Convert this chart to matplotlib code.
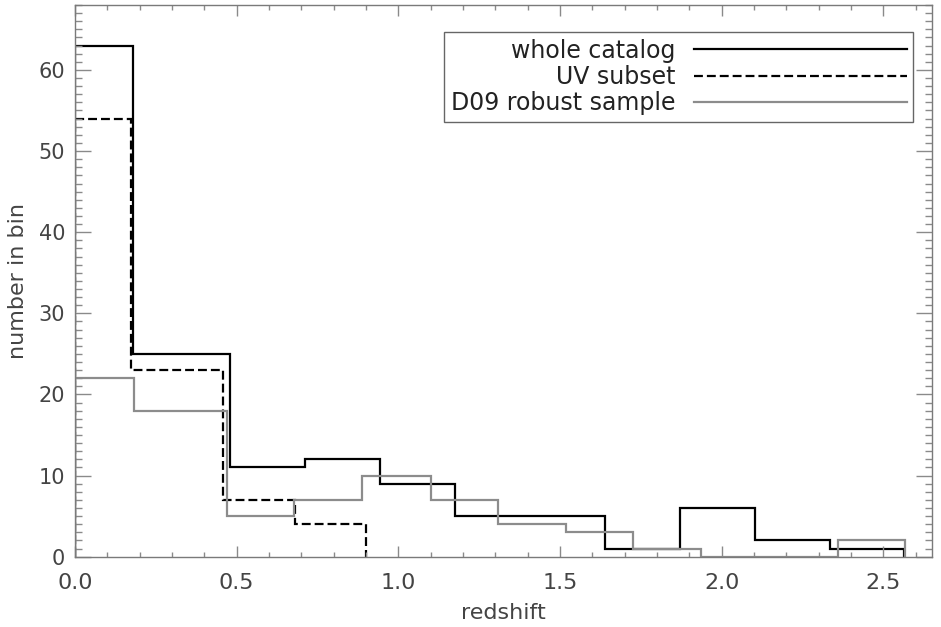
import matplotlib
matplotlib.use("Agg")
import matplotlib.pyplot as plt
from matplotlib.ticker import MultipleLocator

# Data
whole_edges = [0.0, 0.180, 0.479, 0.711, 0.943, 1.175, 1.407, 1.639, 1.871, 2.103, 2.335, 2.564]
whole_counts = [63, 25, 11, 12, 9, 5, 5, 1, 6, 2, 1]

uv_edges = [0.0, 0.173, 0.457, 0.680, 0.899]
uv_counts = [54, 23, 7, 4]

d09_edges = [0.0, 0.182, 0.469, 0.678, 0.889, 1.100, 1.307, 1.518, 1.727, 1.937, 2.147, 2.358, 2.567]
d09_counts = [22, 18, 5, 7, 10, 7, 4, 3, 1, 0, 0, 2]

labels = ["whole catalog", "UV subset", "D09 robust sample"]
xticks = [0.0, 0.5, 1.0, 1.5, 2.0, 2.5]
yticks = [0, 10, 20, 30, 40, 50, 60]

fig = plt.figure(figsize=(9.41, 6.27), dpi=100)
ax = fig.add_axes([0.0797, 0.1121, 0.9107, 0.8799])

ax.stairs(whole_counts, whole_edges, color="black", lw=1.6, label=labels[0], baseline=0)
ax.stairs(uv_counts, uv_edges, color="black", lw=1.6, ls=(0, (4, 1.8)), label=labels[1], baseline=0)
ax.stairs(d09_counts, d09_edges, color="#8c8c8c", lw=1.6, label=labels[2], baseline=0)

ax.set_xlim(0, 2.65)
ax.set_ylim(0, 68)
ax.set_xticks(xticks)
ax.set_xticklabels([f"{v:.1f}" for v in xticks])
ax.set_yticks(yticks)
ax.xaxis.set_minor_locator(MultipleLocator(0.1))
ax.yaxis.set_minor_locator(MultipleLocator(1))

tc = "#8a8a8a"
lc = "#444444"
ax.tick_params(axis="x", which="major", direction="in", length=8, width=1, color=tc,
               top=True, bottom=True, labelsize=16, pad=12, labelcolor=lc)
ax.tick_params(axis="x", which="minor", direction="in", length=3.8, width=1, color=tc,
               top=True, bottom=True)
ax.tick_params(axis="y", which="major", direction="in", length=11.5, width=1, color=tc,
               left=True, right=True, labelsize=15, pad=7, labelcolor=lc)
ax.tick_params(axis="y", which="minor", direction="in", length=5, width=1, color=tc,
               left=True, right=True)
for s in ax.spines.values():
    s.set_color("#7a7a7a")
    s.set_linewidth(1)

ax.set_xlabel("redshift", fontsize=16, color=lc, labelpad=7)
ax.set_ylabel("number in bin", fontsize=16, color=lc, labelpad=8)

leg = ax.legend(loc="upper right", bbox_to_anchor=(0.978, 0.951), borderaxespad=0,
                markerfirst=False, fontsize=17, handlelength=9.0, handletextpad=0.8,
                labelspacing=0.1, borderpad=0.28, fancybox=False, framealpha=1,
                edgecolor="#666666")
leg.get_frame().set_linewidth(1)
for t in leg.get_texts():
    t.set_color("#222222")

fig.savefig("out.png", dpi=100)
